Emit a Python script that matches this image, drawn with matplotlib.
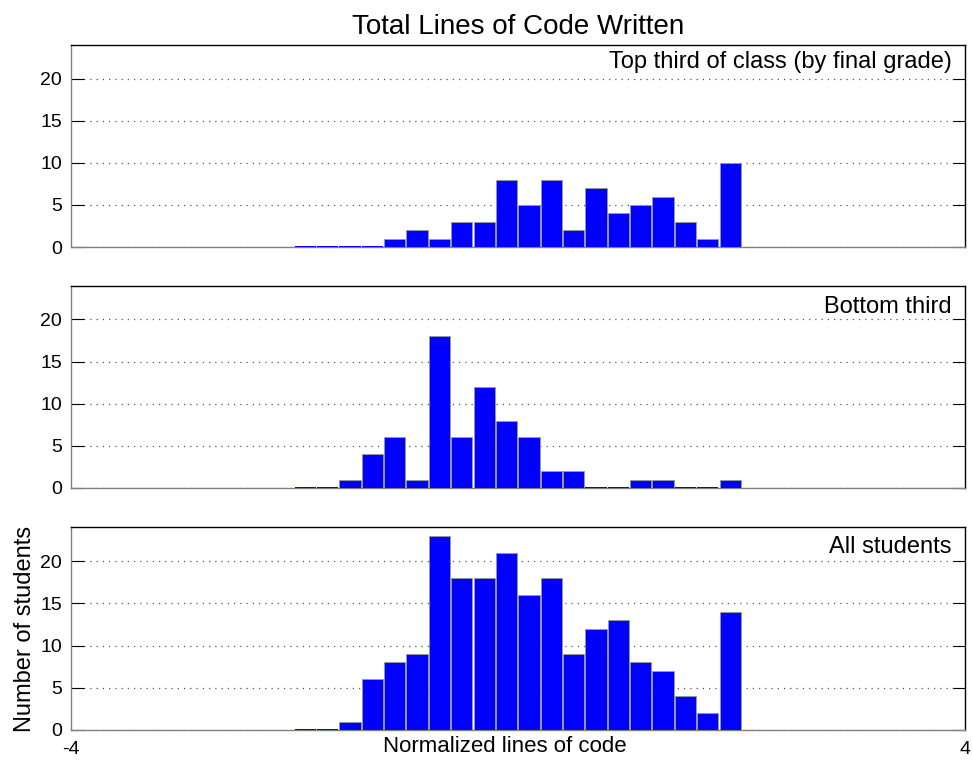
import matplotlib
matplotlib.use("Agg")
import matplotlib.pyplot as plt
import numpy as np

plt.rcParams['font.family'] = ['Liberation Sans', 'DejaVu Sans']

# Data: 20 histogram bins of width 0.2 spanning -2 .. 2
bin_centers = [-1.9, -1.7, -1.5, -1.3, -1.1, -0.9, -0.7, -0.5, -0.3, -0.1,
               0.1, 0.3, 0.5, 0.7, 0.9, 1.1, 1.3, 1.5, 1.7, 1.9]
top_third = [0, 0, 0, 0, 1, 2, 1, 3, 3, 8, 5, 8, 2, 7, 4, 5, 6, 3, 1, 10]
bottom_third = [0, 0, 1, 4, 6, 1, 18, 6, 12, 8, 6, 2, 2, 0, 0, 1, 1, 0, 0, 1]
all_students = [0, 0, 1, 6, 8, 9, 23, 18, 18, 21, 16, 18, 9, 12, 13, 8, 7, 4, 2, 14]
panel_labels = ["Top third of class (by final grade)", "Bottom third", "All students"]
y_ticks = [0, 5, 10, 15, 20]
x_ticks = [-4, 4]

series = [top_third, bottom_third, all_students]

fig = plt.figure(figsize=(9.73, 7.61), dpi=100)
W, H = 973.0, 761.0
left_px, right_px = 70.5, 965.0
panel_px = [(45.0, 247.0), (285.7, 488.0), (527.3, 730.0)]
text_off_px = [23, 27, 26]  # baseline offset below top

axes = []
for i, (vals, lab) in enumerate(zip(series, panel_labels)):
    t, b = panel_px[i]
    ax = fig.add_axes([left_px / W, 1 - b / H, (right_px - left_px) / W, (b - t) / H])
    axes.append(ax)
    ax.bar(bin_centers, vals, width=0.19, color='#0000FF', edgecolor='#9a9a9a',
           linewidth=0.6, zorder=3)
    # zero-count bins show as a thin blue line on the baseline
    zero_x = [c for c, v in zip(bin_centers, vals) if v == 0 and c < 1.95]
    ax.bar(zero_x, [0.12] * len(zero_x), width=0.19, color='#0000FF',
           linewidth=0, zorder=4)
    ax.set_xlim(-4, 4)
    ax.set_ylim(0, 24)
    ax.set_yticks(y_ticks)
    ax.yaxis.grid(True, linestyle=(0, (1, 4)), color='#555555', linewidth=0.9, zorder=0)
    ax.tick_params(axis='y', direction='in', length=9, width=0.8, labelsize=14,
                   right=True, pad=6)
    ax.tick_params(axis='x', direction='in', length=0, labelsize=14, pad=8)
    for s in ['left', 'bottom']:
        ax.spines[s].set_color('#808080')
    for s in ['top', 'right']:
        ax.spines[s].set_color('black')
    for s in ax.spines.values():
        s.set_linewidth(1.0)
    ax.text(0.985, 1 - text_off_px[i] / (b - t), lab, transform=ax.transAxes,
            ha='right', va='baseline', fontsize=17)
    if i < 2:
        ax.set_xticks([])
    else:
        ax.set_xticks(x_ticks)
        ax.set_xticklabels([str(v) for v in x_ticks])

axes[2].set_xlabel("Normalized lines of code", fontsize=16)
axes[2].xaxis.set_label_coords(0.485, -0.03)
axes[2].set_ylabel("Number of students", fontsize=17, labelpad=3)
axes[0].set_title("Total Lines of Code Written", fontsize=20, pad=8)

fig.savefig("out.png", dpi=100)
